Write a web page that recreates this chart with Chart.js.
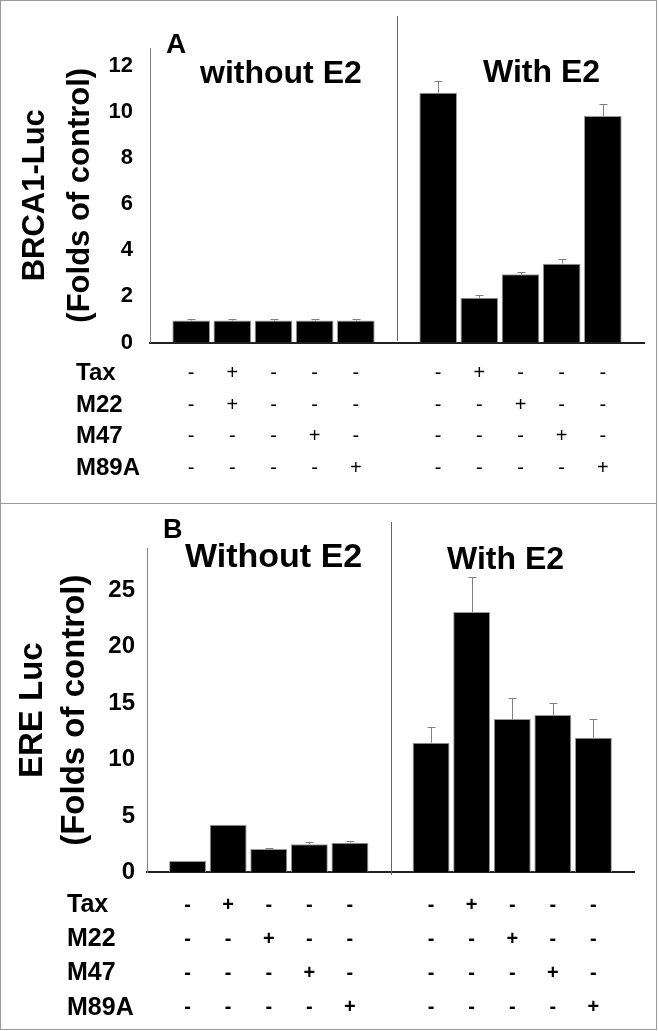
<!DOCTYPE html>
<html>
<head>
<meta charset="utf-8">
<script src="https://cdn.jsdelivr.net/npm/chart.js@4.4.0/dist/chart.umd.min.js"></script>
<style>
body { margin: 0; background: #fff; }
.panel { position: absolute; left: 0; width: 657px; box-sizing: border-box; border: 1px solid #999; }
canvas { position: absolute; left: 0; }
</style>
</head>
<body>
<div class="panel" style="top:0;height:504px"></div>
<div class="panel" style="top:503px;height:527px"></div>
<canvas id="chartA" width="659" height="503" style="top:0"></canvas>
<canvas id="chartB" width="659" height="528" style="top:503px"></canvas>
<script>
Chart.defaults.font.family = '"Liberation Sans", Arial, sans-serif';
Chart.defaults.color = '#000';

// x slots: 0 and 12 are margins, 6 is the gap between the two groups
var slots = ['', '1', '2', '3', '4', '5', '', '7', '8', '9', '10', '11', ''];
var treatments = ['Tax', 'M22', 'M47', 'M89A'];

// panel A - BRCA1-Luc
var brcaWithout = [0.95, 0.95, 0.95, 0.95, 0.95];
var brcaWith = [10.84, 1.94, 2.96, 3.42, 9.83];
var brcaErrWithout = [0.05, 0.05, 0.05, 0.05, 0.05];
var brcaErrWith = [0.52, 0.1, 0.09, 0.19, 0.52];
var brcaTicks = [0, 2, 4, 6, 8, 10, 12];
var taxA = ['-', '+', '-', '-', '-', '-', '+', '-', '-', '-'];
var m22A = ['-', '+', '-', '-', '-', '-', '-', '+', '-', '-'];
var m47A = ['-', '-', '-', '+', '-', '-', '-', '-', '+', '-'];
var m89aA = ['-', '-', '-', '-', '+', '-', '-', '-', '-', '+'];

// panel B - ERE Luc
var ereWithout = [1.0, 4.22, 2.07, 2.48, 2.62];
var ereWith = [11.49, 23.08, 13.59, 13.95, 11.93];
var ereErrWithout = [0, 0, 0.1, 0.18, 0.12];
var ereErrWith = [1.36, 3.07, 1.84, 1.04, 1.63];
var ereTicks = [0, 5, 10, 15, 20, 25];
var taxB = ['-', '+', '-', '-', '-', '-', '+', '-', '-', '-'];
var m22B = ['-', '-', '+', '-', '-', '-', '-', '+', '-', '-'];
var m47B = ['-', '-', '-', '+', '-', '-', '-', '-', '+', '-'];
var m89aB = ['-', '-', '-', '-', '+', '-', '-', '-', '-', '+'];

function toSlots(a, b) {
    return [null].concat(a, [null], b, [null]);
}

function colOf(slot) {
    if (slot >= 1 && slot <= 5) return slot - 1;
    if (slot >= 7 && slot <= 11) return slot - 2;
    return -1;
}

function makeChart(id, p) {
    var values = toSlots(p.without, p.with);
    var errors = toSlots(p.errWithout, p.errWith);

    var extras = {
        id: 'extras',
        afterDatasetsDraw: function(chart) {
            var ctx = chart.ctx;
            var xs = chart.scales.x, ys = chart.scales.y;
            var meta = chart.getDatasetMeta(0);
            ctx.save();

            // error bars
            ctx.strokeStyle = '#808080';
            ctx.lineWidth = 1;
            values.forEach(function(v, i) {
                if (v === null || !errors[i]) return;
                var bar = meta.data[i];
                var top = Math.round(ys.getPixelForValue(v + errors[i])) + 0.5;
                var bx = Math.round(bar.x) + 0.5;
                ctx.beginPath();
                ctx.moveTo(bx, bar.y);
                ctx.lineTo(bx, top);
                ctx.moveTo(bx - 4, top);
                ctx.lineTo(bx + 4, top);
                ctx.stroke();
            });

            // divider between the two groups
            var dx = Math.round(xs.getPixelForValue(6)) + 0.5;
            ctx.strokeStyle = '#666';
            ctx.beginPath();
            ctx.moveTo(dx, p.divider[0]);
            ctx.lineTo(dx, p.divider[1]);
            ctx.stroke();

            // panel letter and group titles
            ctx.fillStyle = '#000';
            ctx.textBaseline = 'alphabetic';
            ctx.textAlign = 'left';
            p.texts.forEach(function(t) {
                ctx.font = 'bold ' + t.size + 'px "Liberation Sans", Arial, sans-serif';
                ctx.fillText(t.text, t.x, t.y);
            });

            // row names of the treatment table
            ctx.font = 'bold ' + p.rowFont + 'px "Liberation Sans", Arial, sans-serif';
            ctx.textBaseline = 'middle';
            treatments.forEach(function(name, i) {
                var y = xs.top + p.rowPad + p.rowH / 2 + i * p.rowH;
                ctx.fillText(name, p.rowX, y);
            });
            ctx.restore();
        }
    };

    return new Chart(document.getElementById(id), {
        type: 'bar',
        data: {
            labels: slots,
            datasets: [{
                data: values,
                backgroundColor: '#000',
                borderColor: '#9a9a9a',
                borderWidth: 1,
                barPercentage: p.barPct,
                categoryPercentage: 1
            }]
        },
        options: {
            responsive: false,
            animation: false,
            layout: { padding: p.padding },
            plugins: { legend: { display: false }, tooltip: { enabled: false } },
            scales: {
                x: {
                    offset: false,
                    grid: { display: false, drawTicks: false },
                    border: { display: true, color: '#222', width: 2 },
                    afterFit: function(scale) { scale.height = p.tableH; },
                    ticks: {
                        autoSkip: false,
                        maxRotation: 0,
                        padding: p.rowPad,
                        font: { size: 20, weight: p.signWeight, lineHeight: p.rowH + 'px' },
                        callback: function(value, index) {
                            var c = colOf(index);
                            if (c < 0) return '';
                            return p.signs.map(function(row) { return row[c]; });
                        }
                    }
                },
                y: {
                    min: 0,
                    max: p.max,
                    grid: { display: false, drawTicks: false },
                    border: { display: true, color: '#808080', width: 1 },
                    afterFit: function(scale) { scale.width = p.axisX; },
                    afterBuildTicks: function(scale) {
                        scale.ticks = p.ticks.map(function(v) { return { value: v }; });
                    },
                    ticks: {
                        padding: p.tickPad,
                        font: { size: p.tickFont, weight: 'bold' }
                    },
                    title: {
                        display: true,
                        text: p.title,
                        font: { size: p.titleFont, weight: 'bold', lineHeight: p.titleLH + 'px' },
                        padding: { top: p.titlePad, bottom: 0 }
                    }
                }
            }
        },
        plugins: [extras]
    });
}

makeChart('chartA', {
    without: brcaWithout, with: brcaWith,
    errWithout: brcaErrWithout, errWith: brcaErrWith,
    ticks: brcaTicks, max: 12.78,
    signs: [taxA, m22A, m47A, m89aA], signWeight: 'normal',
    title: ['BRCA1-Luc', '(Folds of control)'],
    titleFont: 31, titleLH: 45, titlePad: 12.5,
    tickFont: 22, tickPad: 17,
    axisX: 150,
    padding: { left: 0, right: 11, top: 48, bottom: 0 },
    tableH: 160.5,
    barPct: 0.915,
    rowPad: 15, rowH: 31.7, rowX: 76, rowFont: 24,
    divider: [16, 341],
    texts: [
        { text: 'A', size: 28, x: 166, y: 53 },
        { text: 'without E2', size: 32, x: 200, y: 83 },
        { text: 'With E2', size: 32, x: 483, y: 82 }
    ]
});

makeChart('chartB', {
    without: ereWithout, with: ereWith,
    errWithout: ereErrWithout, errWith: ereErrWith,
    ticks: ereTicks, max: 28.75,
    signs: [taxB, m22B, m47B, m89aB], signWeight: 'bold',
    title: ['ERE Luc', '(Folds of control)'],
    titleFont: 33, titleLH: 42, titlePad: 12,
    tickFont: 24, tickPad: 12,
    axisX: 147,
    padding: { left: 0, right: 25, top: 45, bottom: 0 },
    tableH: 158.7,
    barPct: 0.91,
    rowPad: 16, rowH: 34.1, rowX: 67, rowFont: 25,
    divider: [19, 372],
    texts: [
        { text: 'B', size: 27, x: 163, y: 35 },
        { text: 'Without E2', size: 34, x: 185, y: 64 },
        { text: 'With E2', size: 32, x: 447, y: 66 }
    ]
});
</script>
</body>
</html>
